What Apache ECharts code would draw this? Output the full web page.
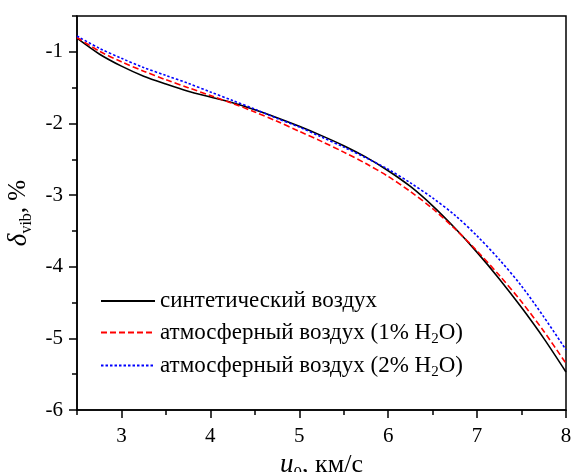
<!DOCTYPE html>
<html>
<head>
<meta charset="utf-8">
<style>html,body{margin:0;padding:0;background:#fff;}#chart{width:571px;height:472px;}</style>
<script src="https://cdn.jsdelivr.net/npm/echarts@6/dist/echarts.min.js"></script>
</head>
<body>
<div id="chart"></div>
<script>
// flow velocity, km/s
var u0 = [2.5, 2.75, 3, 3.25, 3.5, 3.75, 4, 4.25, 4.5, 4.75, 5, 5.25, 5.5, 5.75, 6, 6.25, 6.5, 6.75, 7, 7.25, 7.5, 7.75, 8];
var synthetic = [-0.81, -1.03, -1.20, -1.34, -1.45, -1.55, -1.63, -1.71, -1.81, -1.92, -2.04, -2.17, -2.31, -2.47, -2.66, -2.88, -3.15, -3.46, -3.80, -4.17, -4.57, -5.00, -5.47];
var atm1 = [-0.80, -0.99, -1.14, -1.27, -1.39, -1.50, -1.61, -1.72, -1.84, -1.97, -2.11, -2.25, -2.40, -2.56, -2.74, -2.95, -3.19, -3.47, -3.78, -4.12, -4.49, -4.90, -5.35];
var atm2 = [-0.78, -0.95, -1.09, -1.22, -1.33, -1.44, -1.56, -1.68, -1.80, -1.93, -2.05, -2.19, -2.33, -2.48, -2.64, -2.83, -3.04, -3.28, -3.57, -3.90, -4.27, -4.70, -5.16];
var xTicks = [3, 4, 5, 6, 7, 8];
var yTicks = [-6, -5, -4, -3, -2, -1];
var names = ['синтетический воздух', 'атмосферный воздух (1% H2O)', 'атмосферный воздух (2% H2O)'];

var serif = '"Liberation Serif", "DejaVu Serif", serif';

function pairs(ys) {
  return u0.map(function (x, i) { return [x, ys[i]]; });
}

var chart = echarts.init(document.getElementById('chart'), null, { renderer: 'canvas' });

var option = {
  backgroundColor: '#fff',
  animation: false,
  grid: {
    left: 77, right: 5, top: 16, bottom: 62,
    outerBoundsMode: 'none',
    containLabel: false,
    show: true, borderColor: '#000', borderWidth: 1.5, backgroundColor: 'transparent'
  },
  legend: {
    orient: 'vertical',
    left: 95,
    top: 283,
    itemWidth: 54,
    itemHeight: 14,
    itemGap: 4,
    data: names,
    // hide the marker dot, keep only the line sample
    itemStyle: { opacity: 0 },
    formatter: function (name) {
      return name.replace('H2O', 'H{s|2}O');
    },
    textStyle: {
      fontFamily: serif,
      fontSize: 23,
      lineHeight: 26,
      color: '#000',
      rich: {
        s: { fontFamily: serif, fontSize: 15, lineHeight: 26, color: '#000', padding: [14, 0, 0, 0] }
      }
    }
  },
  xAxis: [
    {
      type: 'value',
      min: 2.5,
      max: 8,
      name: '{u|u}{s|0}{t|, км/с}',
      nameLocation: 'middle',
      nameGap: 34,
      nameTextStyle: {
        rich: {
          u: { fontFamily: serif, fontSize: 27, fontStyle: 'italic', color: '#000' },
          s: { fontFamily: serif, fontSize: 17, color: '#000', padding: [16, 0, 0, 0] },
          t: { fontFamily: serif, fontSize: 26, color: '#000' }
        }
      },
      axisLine: { show: true, onZero: false, lineStyle: { color: '#000', width: 1.5 } },
      axisTick: { show: true, length: 8, lineStyle: { color: '#000', width: 1.5 }, customValues: xTicks },
      axisLabel: { color: '#000', fontFamily: serif, fontSize: 21, margin: 16, customValues: xTicks },
      splitLine: { show: false }
    },
    {
      type: 'value',
      min: 2.5,
      max: 8,
      interval: 0.5,
      position: 'bottom',
      axisLine: { show: false },
      axisTick: { show: true, length: 5, lineStyle: { color: '#000', width: 1.5 } },
      axisLabel: { show: false },
      splitLine: { show: false }
    }
  ],
  yAxis: [
    {
      type: 'value',
      min: -6,
      max: -0.5,
      name: '{d|δ}{s|vib}{t|, %}',
      nameLocation: 'middle',
      nameGap: 37,
      nameTextStyle: {
        rich: {
          d: { fontFamily: serif, fontSize: 27, fontStyle: 'italic', color: '#000' },
          s: { fontFamily: serif, fontSize: 16, color: '#000', padding: [16, 0, 0, 0] },
          t: { fontFamily: serif, fontSize: 25, color: '#000' }
        }
      },
      axisLine: { show: true, onZero: false, lineStyle: { color: '#000', width: 1.5 } },
      axisTick: { show: true, length: 8, lineStyle: { color: '#000', width: 1.5 }, customValues: yTicks },
      axisLabel: { color: '#000', fontFamily: serif, fontSize: 21, margin: 14, customValues: yTicks },
      splitLine: { show: false }
    },
    {
      type: 'value',
      min: -6,
      max: -0.5,
      interval: 0.5,
      position: 'left',
      axisLine: { show: false },
      axisTick: { show: true, length: 5, lineStyle: { color: '#000', width: 1.5 } },
      axisLabel: { show: false },
      splitLine: { show: false }
    }
  ],
  series: [
    {
      name: names[0],
      type: 'line',
      data: pairs(synthetic),
      smooth: 0.3,
      showSymbol: false,
      symbol: 'none',
      lineStyle: { color: '#000', width: 1.6, type: 'solid' },
      itemStyle: { color: '#000' }
    },
    {
      name: names[1],
      type: 'line',
      data: pairs(atm1),
      smooth: 0.3,
      showSymbol: false,
      symbol: 'none',
      lineStyle: { color: '#ff0000', width: 1.6, type: [6, 3] },
      itemStyle: { color: '#ff0000' }
    },
    {
      name: names[2],
      type: 'line',
      data: pairs(atm2),
      smooth: 0.3,
      showSymbol: false,
      symbol: 'none',
      lineStyle: { color: '#0000ff', width: 1.6, type: [2.5, 2] },
      itemStyle: { color: '#0000ff' }
    }
  ]
};

chart.setOption(option);
</script>
</body>
</html>
